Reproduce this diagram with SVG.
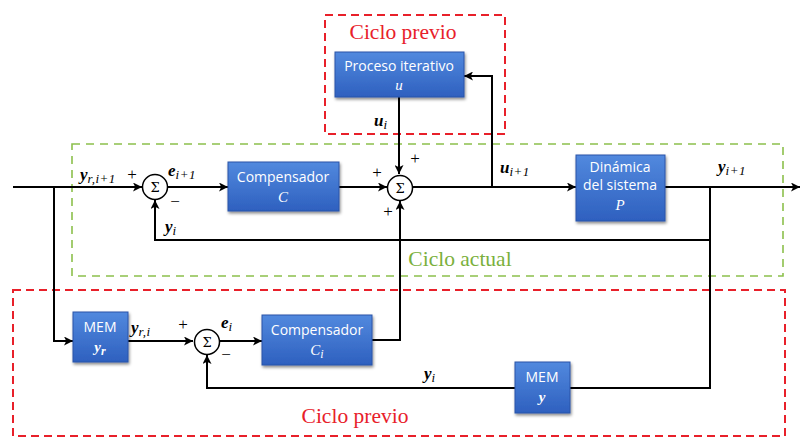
<svg xmlns="http://www.w3.org/2000/svg" width="801" height="439" viewBox="0 0 801 439">
  <defs>
    <linearGradient id="blk" x1="0" y1="0" x2="0" y2="1">
      <stop offset="0" stop-color="#5289de"/>
      <stop offset="1" stop-color="#2e60bf"/>
    </linearGradient>
    <filter id="shadow" x="-20%" y="-20%" width="140%" height="150%">
      <feDropShadow dx="1" dy="2" stdDeviation="1.5" flood-color="#000" flood-opacity="0.45"/>
    </filter>
    <marker id="arr" viewBox="0 0 10 10" refX="10" refY="5" markerWidth="9" markerHeight="9" markerUnits="userSpaceOnUse" orient="auto">
      <path d="M0,0 L10,5 L0,10 L2.5,5 z" fill="#000"/>
    </marker>
  </defs>
  <style>
    .blk { fill: url(#blk); stroke: #2a55a8; stroke-width: 1; filter: url(#shadow); }
    .bt { font-family: "Open Sans", "Liberation Sans", sans-serif; font-size: 14px; fill: #fff; text-anchor: middle; }
    .bm { font-family: "Liberation Serif", serif; font-style: italic; font-size: 15px; fill: #fff; text-anchor: middle; }
    .wire { fill: none; stroke: #000; stroke-width: 2; }
    .sum { fill: #fff; stroke: #000; stroke-width: 1.5; }
    .sig { font-family: "DejaVu Serif", serif; font-size: 13px; text-anchor: middle; fill: #000; }
    .sign { font-family: "Liberation Serif", serif; font-size: 17px; fill: #000; text-anchor: middle; }
    .lab { font-family: "Liberation Serif", serif; font-style: italic; font-weight: bold; font-size: 17px; fill: #000; }
    .sub { font-size: 13px; font-weight: normal; letter-spacing: 0.5px; }
    .red { fill: none; stroke: #e8202a; stroke-width: 2; stroke-dasharray: 8 5; }
    .green { fill: none; stroke: #8cc04c; stroke-width: 1.6; stroke-dasharray: 8 6; }
    .rt { font-family: "Liberation Serif", serif; font-size: 21.5px; fill: #e8202a; text-anchor: middle; }
    .gt { font-family: "Liberation Serif", serif; font-size: 21.5px; fill: #7ab03c; text-anchor: middle; }
  </style>

  <!-- loop regions -->
  <rect class="red" x="325" y="15" width="180" height="119"/>
  <text class="rt" x="403" y="39">Ciclo previo</text>
  <rect class="green" x="72" y="144" width="711" height="132"/>
  <text class="gt" x="460" y="266">Ciclo actual</text>
  <rect class="red" x="13" y="290" width="772" height="146"/>
  <text class="rt" x="355" y="423">Ciclo previo</text>

  <!-- connectors -->
  <g id="connectors">
    <path class="wire" d="M13,187 H142" marker-end="url(#arr)"/>
    <path class="wire" d="M168,187 H228" marker-end="url(#arr)"/>
    <path class="wire" d="M339,187 H387" marker-end="url(#arr)"/>
    <path class="wire" d="M413,187 H576" marker-end="url(#arr)"/>
    <path class="wire" d="M665,187 H800" marker-end="url(#arr)"/>
    <path class="wire" d="M399,97 V174" marker-end="url(#arr)"/>
    <path class="wire" d="M492,187 V76 H464" marker-end="url(#arr)"/>
    <path class="wire" d="M710,187 V388 H570"/>
    <path class="wire" d="M710,240 H155 V200" marker-end="url(#arr)"/>
    <path class="wire" d="M515,388 H207 V355" marker-end="url(#arr)"/>
    <path class="wire" d="M54,187 V341 H73" marker-end="url(#arr)"/>
    <path class="wire" d="M128,341 H193" marker-end="url(#arr)"/>
    <path class="wire" d="M220,341 H262" marker-end="url(#arr)"/>
    <path class="wire" d="M372,340 H400 V201" marker-end="url(#arr)"/>
  </g>

  <!-- blocks -->
  <g id="proceso">
    <rect class="blk" x="335" y="52" width="129" height="45"/>
    <text class="bt" x="399" y="71">Proceso iterativo</text>
    <text class="bm" x="399" y="90">u</text>
  </g>
  <g id="compensador-c">
    <rect class="blk" x="228" y="162" width="111" height="49"/>
    <text class="bt" x="283" y="182">Compensador</text>
    <text class="bm" x="283" y="202">C</text>
  </g>
  <g id="planta">
    <rect class="blk" x="576" y="155" width="89" height="66"/>
    <text class="bt" x="620" y="172">Dinámica</text>
    <text class="bt" x="620" y="190">del sistema</text>
    <text class="bm" x="620" y="210">P</text>
  </g>
  <g id="mem-yr">
    <rect class="blk" x="73" y="312" width="55" height="50"/>
    <text class="bt" x="100" y="332">MEM</text>
    <text class="bm" x="100" y="352" font-weight="bold">y<tspan font-size="12px" dy="3">r</tspan></text>
  </g>
  <g id="compensador-ci">
    <rect class="blk" x="262" y="315" width="110" height="50"/>
    <text class="bt" x="317" y="335">Compensador</text>
    <text class="bm" x="317" y="355">C<tspan font-size="12px" dy="3">i</tspan></text>
  </g>
  <g id="mem-y">
    <rect class="blk" x="515" y="362" width="55" height="51"/>
    <text class="bt" x="542" y="382">MEM</text>
    <text class="bm" x="542" y="402" font-weight="bold">y</text>
  </g>

  <!-- summing junctions -->
  <g id="sum1">
    <circle class="sum" cx="155" cy="187" r="12.5"/>
    <text class="sig" x="155" y="191.5">Σ</text>
    <text class="sign" x="132" y="180">+</text>
    <text class="sign" x="175" y="207">−</text>
  </g>
  <g id="sum2">
    <circle class="sum" cx="400" cy="188" r="12.5"/>
    <text class="sig" x="400" y="192.5">Σ</text>
    <text class="sign" x="377" y="178">+</text>
    <text class="sign" x="415" y="164">+</text>
    <text class="sign" x="388" y="217">+</text>
  </g>
  <g id="sum3">
    <circle class="sum" cx="207" cy="342" r="12.5"/>
    <text class="sig" x="207" y="346.5">Σ</text>
    <text class="sign" x="183" y="330">+</text>
    <text class="sign" x="226" y="360">−</text>
  </g>

  <!-- signal labels -->
  <g id="labels">
    <text class="lab" x="80" y="180">y<tspan class="sub" dy="3">r,i+1</tspan></text>
    <text class="lab" x="168" y="176">e<tspan class="sub" dy="3">i+1</tspan></text>
    <text class="lab" x="165" y="232">y<tspan class="sub" dy="3">i</tspan></text>
    <text class="lab" x="374" y="126">u<tspan class="sub" dy="3">i</tspan></text>
    <text class="lab" x="500" y="173">u<tspan class="sub" dy="3">i+1</tspan></text>
    <text class="lab" x="718" y="172">y<tspan class="sub" dy="3">i+1</tspan></text>
    <text class="lab" x="131" y="333">y<tspan class="sub" dy="3">r,i</tspan></text>
    <text class="lab" x="221" y="328">e<tspan class="sub" dy="3">i</tspan></text>
    <text class="lab" x="424" y="379">y<tspan class="sub" dy="3">i</tspan></text>
  </g>
</svg>
